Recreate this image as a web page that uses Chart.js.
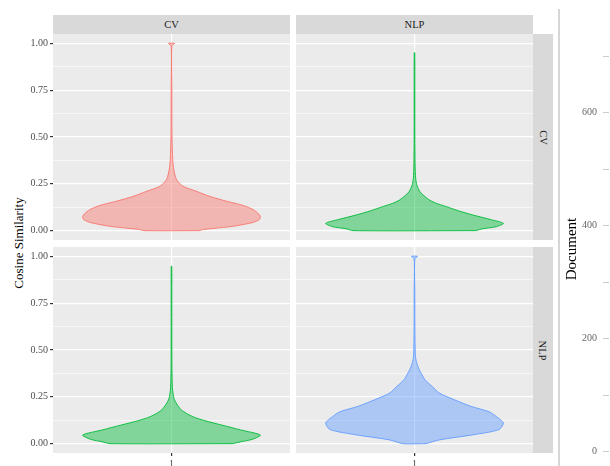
<!DOCTYPE html>
<html>
<head>
<meta charset="utf-8">
<script src="https://cdn.jsdelivr.net/npm/chart.js@4.4.1/dist/chart.umd.min.js"></script>
<style>
body{margin:0;width:610px;height:466px;position:relative;background:#fff;overflow:hidden;font-family:"Liberation Serif",serif}
canvas,.strip,.lab,.vline{position:absolute}
.strip{background:#d9d9d9;color:#1a1a1a;font-size:10.5px;display:flex;align-items:center;justify-content:center}
.strip .rot{transform:rotate(90deg);white-space:nowrap}
.lab{color:#000;font-size:13px;white-space:nowrap}
.vline{left:558px;top:9px;width:2px;height:457px;background:#d6d6d6}
</style>
</head>
<body>
<div class="strip" style="left:53px;top:15px;width:237px;height:19px">CV</div>
<div class="strip" style="left:296px;top:15px;width:237px;height:19px">NLP</div>
<div class="strip" style="left:533px;top:34px;width:20px;height:206px"><span class="rot">CV</span></div>
<div class="strip" style="left:533px;top:247px;width:20px;height:206px"><span class="rot">NLP</span></div>
<div class="lab" id="ylab">Cosine Similarity</div>
<div class="vline"></div>

<canvas id="p11" width="270" height="206" style="left:20px;top:34px"></canvas>
<canvas id="p12" width="237" height="206" style="left:296px;top:34px"></canvas>
<canvas id="p21" width="270" height="219" style="left:20px;top:247px"></canvas>
<canvas id="p22" width="237" height="219" style="left:296px;top:247px"></canvas>
<canvas id="doc" width="50" height="466" style="left:560px;top:0px"></canvas>

<script>
// violin outlines: similarity level and relative half-width (1 = widest)
// row CV, column CV
var cvcvY = [0, 0.006, 0.012, 0.023, 0.044, 0.06, 0.075, 0.09, 0.112, 0.134, 0.157, 0.183, 0.21, 0.237, 0.273, 0.326, 0.38, 0.5, 0.75, 0.985, 1.0];
var cvcvW = [0.31, 0.36, 0.48, 0.69, 0.92, 0.99, 1.0, 0.98, 0.92, 0.81, 0.62, 0.43, 0.28, 0.13, 0.056, 0.026, 0.014, 0.006, 0.004, 0.004, 0.035];
// row CV, column NLP
var cvnlpY = [0, 0.01, 0.021, 0.039, 0.06, 0.083, 0.105, 0.128, 0.145, 0.163, 0.2, 0.217, 0.246, 0.28, 0.35, 0.5, 0.75, 0.95];
var cvnlpW = [0.69, 0.77, 0.92, 1.0, 0.85, 0.66, 0.5, 0.36, 0.25, 0.17, 0.075, 0.05, 0.025, 0.013, 0.007, 0.004, 0.004, 0.003];
// row NLP, column CV
var nlpcvY = [0, 0.01, 0.023, 0.046, 0.073, 0.1, 0.122, 0.144, 0.18, 0.233, 0.27, 0.3, 0.4, 0.6, 0.8, 0.947];
var nlpcvW = [0.69, 0.78, 0.91, 1.0, 0.78, 0.56, 0.38, 0.24, 0.11, 0.034, 0.017, 0.01, 0.005, 0.004, 0.004, 0.003];
// row NLP, column NLP
var nlpnlpY = [0, 0.02, 0.048, 0.075, 0.11, 0.145, 0.17, 0.2, 0.234, 0.27, 0.305, 0.34, 0.38, 0.41, 0.44, 0.47, 0.6, 0.8, 0.985, 1.0];
var nlpnlpW = [0.13, 0.28, 0.67, 0.95, 1.0, 0.92, 0.84, 0.63, 0.45, 0.28, 0.2, 0.12, 0.07, 0.04, 0.02, 0.01, 0.005, 0.004, 0.004, 0.035];

var yMajor = [0, 0.25, 0.5, 0.75, 1];
var yMinor = [0.125, 0.375, 0.625, 0.875];
var yLabels = ["0.00", "0.25", "0.50", "0.75", "1.00"];
var xTicks = [1];
var xLabels = ["1"];
var docTicks = [0, 100, 200, 300, 400, 500, 600, 700];
var docLabels = ["0", "", "200", "", "400", "", "600", ""];

var red = "#F8766D", green = "#00BA38", blue = "#619CFF";
var halfWidth = 0.45;
var serif = "'Liberation Serif', 'Times New Roman', serif";

var lab = document.getElementById("ylab");
lab.style.left = "19px";
lab.style.top = "243px";
lab.style.transform = "translate(-50%,-50%) rotate(-90deg)";

var panelBg = {
  id: "panelBg",
  beforeDraw: function(chart) {
    var a = chart.chartArea, ctx = chart.ctx;
    ctx.save();
    ctx.fillStyle = "#ebebeb";
    ctx.fillRect(a.left, a.top, a.right - a.left, a.bottom - a.top);
    ctx.restore();
  }
};

function outline(ys, ws) {
  var pts = [];
  for (var i = 0; i < ys.length; i++) pts.push({x: 1 + ws[i] * halfWidth, y: ys[i]});
  for (var j = ys.length - 1; j >= 0; j--) pts.push({x: 1 - ws[j] * halfWidth, y: ys[j]});
  pts.push({x: pts[0].x, y: pts[0].y});
  return pts;
}

function panel(id, ys, ws, color, showY, showX) {
  var allY = yMajor.concat(yMinor).sort(function(a, b) { return a - b; });
  return new Chart(document.getElementById(id), {
    type: "line",
    data: {
      datasets: [{
        data: outline(ys, ws),
        borderColor: color,
        backgroundColor: color + "73",
        borderWidth: 0.9,
        pointRadius: 0,
        tension: 0.25,
        fill: "shape"
      }]
    },
    options: {
      responsive: false,
      animation: false,
      layout: {padding: 0},
      plugins: {legend: {display: false}, tooltip: {enabled: false}},
      scales: {
        x: {
          type: "linear", min: 0.4, max: 1.6,
          afterBuildTicks: function(s) { s.ticks = xTicks.map(function(v) { return {value: v}; }); },
          border: {display: false},
          grid: {color: "#ffffff", lineWidth: 1.2, drawTicks: showX, tickLength: 3, tickColor: "#333333"},
          ticks: {
            display: showX, autoSkip: false, maxRotation: 0, padding: 2,
            color: "#4d4d4d", font: {family: serif, size: 10},
            callback: function(v) { var k = xTicks.indexOf(v); return k < 0 ? "" : xLabels[k]; }
          },
          afterFit: function(s) { s.height = showX ? 13 : 0; s.paddingLeft = 0; s.paddingRight = 0; }
        },
        y: {
          type: "linear", min: -0.05, max: 1.05,
          afterBuildTicks: function(s) { s.ticks = allY.map(function(v) { return {value: v}; }); },
          border: {display: false},
          grid: {
            color: "#ffffff",
            lineWidth: function(c) { return yMajor.indexOf(c.tick.value) >= 0 ? 1.2 : 0.6; },
            drawTicks: showY, tickLength: 3,
            tickColor: function(c) { return yMajor.indexOf(c.tick.value) >= 0 ? "#333333" : "rgba(0,0,0,0)"; }
          },
          ticks: {
            display: showY, autoSkip: false, padding: 2,
            color: "#4d4d4d", font: {family: serif, size: 10},
            callback: function(v) { var k = yMajor.indexOf(v); return k < 0 ? "" : yLabels[k]; }
          },
          afterFit: function(s) { s.width = showY ? 33 : 0; s.paddingTop = 0; s.paddingBottom = 0; }
        }
      }
    },
    plugins: [panelBg]
  });
}

panel("p11", cvcvY, cvcvW, red, true, false);
panel("p12", cvnlpY, cvnlpW, green, false, false);
panel("p21", nlpcvY, nlpcvW, green, true, true);
panel("p22", nlpnlpY, nlpnlpW, blue, false, true);

// the separate "Document" axis on the right
new Chart(document.getElementById("doc"), {
  type: "line",
  data: {datasets: []},
  options: {
    responsive: false,
    animation: false,
    layout: {padding: {top: 32, bottom: 0, left: 0, right: 0}},
    plugins: {legend: {display: false}, tooltip: {enabled: false}},
    scales: {
      x: {display: false},
      y: {
        position: "left", min: -25.3, max: 742.8,
        afterBuildTicks: function(s) { s.ticks = docTicks.map(function(v) { return {value: v}; }); },
        border: {display: false},
        grid: {drawOnChartArea: false, tickLength: 6, color: "#cccccc"},
        ticks: {
          autoSkip: false, padding: 6, color: "#666666", font: {family: serif, size: 10},
          callback: function(v) { var k = docTicks.indexOf(v); return k < 0 ? "" : docLabels[k]; }
        },
        title: {display: true, text: "Document", color: "#000000", font: {family: serif, size: 15}, padding: 3},
        afterFit: function(s) { s.width = 49; s.paddingTop = 0; s.paddingBottom = 0; }
      }
    }
  }
});
</script>
</body>
</html>
